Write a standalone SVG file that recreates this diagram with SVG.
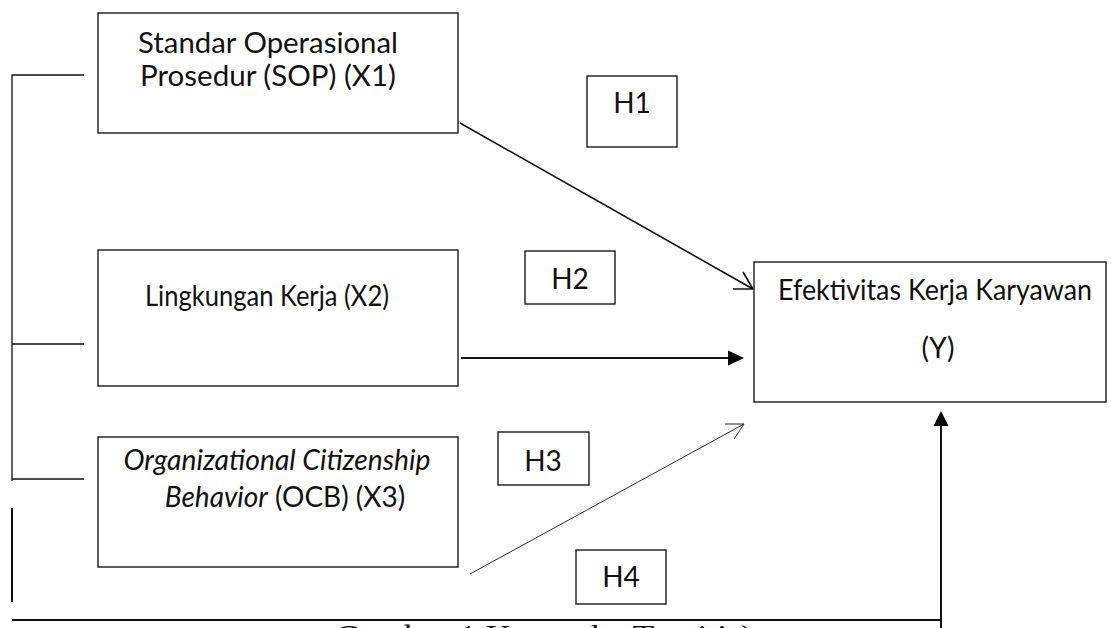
<svg xmlns="http://www.w3.org/2000/svg" width="1111" height="628" viewBox="0 0 1111 628">
<style>
.box{fill:#fff;stroke:#1a1a1a;stroke-width:1.4}
.t{font-family:Lato,"Open Sans",sans-serif;font-size:28px;fill:#111;text-anchor:middle}
.ln{stroke:#111;fill:none}
</style>
<rect width="1111" height="628" fill="#fff"/>
<g id="connectors">
<path class="ln" stroke-width="1.3" d="M84 75H12V481M12 344H84M12 479H84"/>
<path class="ln" stroke-width="2" d="M12 508V602"/>
<path class="ln" stroke-width="2" d="M12 620H941"/>
<path class="ln" stroke-width="2" d="M941 628V424"/>
<polygon points="941,411 933.5,426 948.5,426" fill="#000"/>
<path class="ln" stroke-width="1.6" d="M460 123L753 289M733 289H753L743 272"/>
<path class="ln" stroke-width="2" d="M461 358H730"/>
<polygon points="744,358 728,350.5 728,365.5" fill="#000"/>
<path class="ln" stroke-width="0.9" d="M470 574L744 424M725 424H744L734 439"/>
</g>
<g id="x1"><rect class="box" x="98" y="13" width="360" height="120"/>
<text class="t" x="268" y="53" textLength="260" lengthAdjust="spacingAndGlyphs">Standar Operasional</text>
<text class="t" x="268" y="86" textLength="256" lengthAdjust="spacingAndGlyphs">Prosedur (SOP) (X1)</text></g>
<g id="x2"><rect class="box" x="98" y="250" width="360" height="136"/>
<text class="t" x="267" y="306" textLength="244" lengthAdjust="spacingAndGlyphs">Lingkungan Kerja (X2)</text></g>
<g id="x3"><rect class="box" x="98" y="437" width="360" height="130"/>
<text class="t" x="277" y="470" font-style="italic" textLength="307" lengthAdjust="spacingAndGlyphs">Organizational Citizenship</text>
<text class="t" x="285" y="507" font-size="27"><tspan font-style="italic">Behavior</tspan> (OCB) (X3)</text></g>
<g id="y"><rect class="box" x="754" y="262" width="352" height="140"/>
<text class="t" x="935" y="300" textLength="314" lengthAdjust="spacingAndGlyphs">Efektivitas Kerja Karyawan</text>
<text class="t" x="938" y="358">(Y)</text></g>
<g id="h1"><rect class="box" x="587" y="76" width="90" height="71"/><text class="t" x="632" y="113">H1</text></g>
<g id="h2"><rect class="box" x="525" y="251" width="90" height="53"/><text class="t" x="570" y="289">H2</text></g>
<g id="h3"><rect class="box" x="498" y="432" width="91" height="53"/><text class="t" x="543" y="471">H3</text></g>
<g id="h4"><rect class="box" x="576" y="550" width="90" height="54"/><text class="t" x="621" y="587">H4</text></g>
<text x="335" y="647" font-family="'Liberation Serif',serif" font-size="31" fill="#111" textLength="418" lengthAdjust="spacingAndGlyphs">Gambar 1 Kerangka Teoritis)</text>
</svg>
